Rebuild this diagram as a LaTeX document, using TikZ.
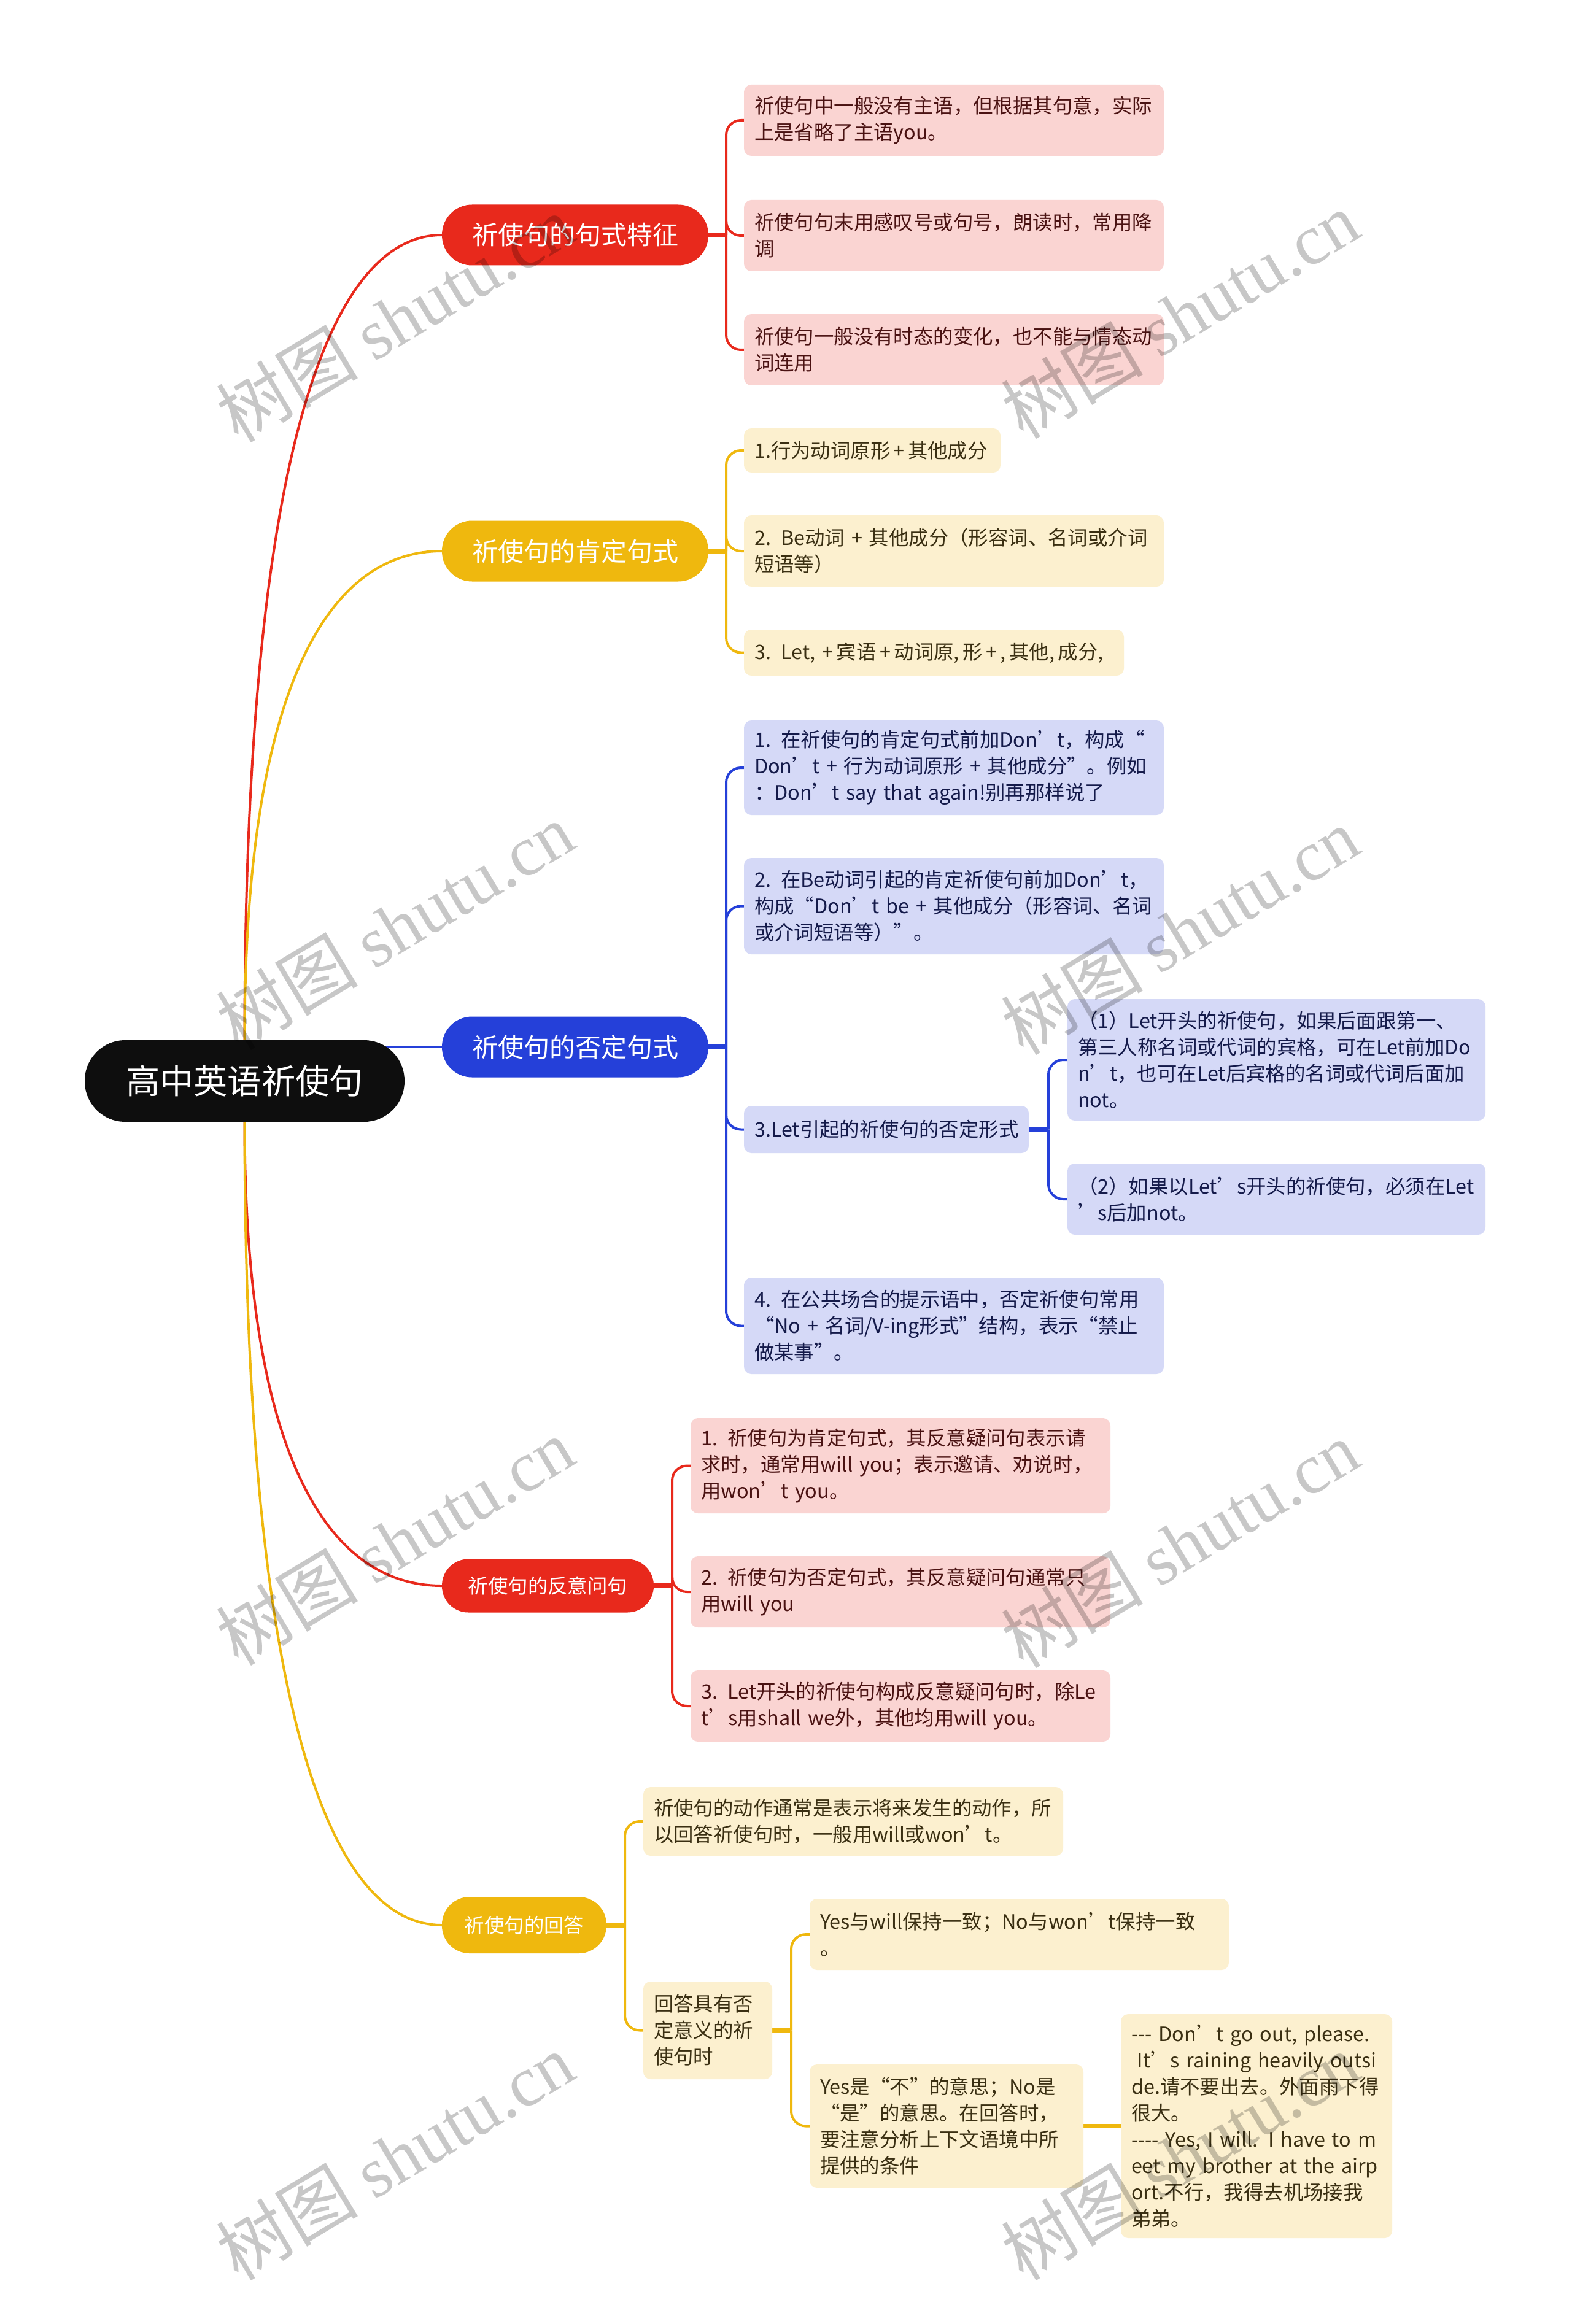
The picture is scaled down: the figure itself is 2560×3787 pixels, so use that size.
\documentclass[tikz,border=0pt]{standalone}
\usepackage{fontspec}
\setmainfont{Noto Sans CJK SC}
\newfontfamily\wmserif{Liberation Serif}
\newfontfamily\wmcjk{Noto Sans CJK SC}
\usetikzlibrary{backgrounds}
\newdimen\upx \upx=0.25pt
\definecolor{cred}{HTML}{E8291C}
\definecolor{cyel}{HTML}{EFB80E}
\definecolor{cblue}{HTML}{2540D9}
\definecolor{cblack}{HTML}{0E0E0E}
\definecolor{pinkf}{HTML}{FAD4D2}
\definecolor{pinkt}{HTML}{4A1212}
\definecolor{creamf}{HTML}{FCF0CF}
\definecolor{creamt}{HTML}{3A2F12}
\definecolor{lavf}{HTML}{D5D9F7}
\definecolor{lavt}{HTML}{141A4A}
\begin{document}
\begin{tikzpicture}[x=0.25pt,y=-0.25pt,
  every node/.style={inner sep=0pt, outer sep=0pt},
  box/.style={rounded corners=3pt, inner xsep=17\upx, inner ysep=0pt, align=left, anchor=west, font=\fontsize{8.1pt}{10.75pt}\selectfont},
  pinkbox/.style={box, fill=pinkf, text=pinkt},
  creambox/.style={box, fill=creamf, text=creamt},
  lavbox/.style={box, fill=lavf, text=lavt},
  pill/.style={text=white, align=center, font=\fontsize{10.5pt}{12pt}\selectfont},
  smallpill/.style={text=white, align=center, font=\fontsize{8.1pt}{10pt}\selectfont},
  link/.style={line width=1pt},
  stub/.style={line width=1.8pt},
  fork/.style={line width=1pt, rounded corners=6pt},
  wm/.style={rotate=31, text=black, text opacity=0.22, font=\fontsize{29pt}{30pt}\selectfont}
]
\useasboundingbox (0,0) rectangle (2560,3787);

% root
\node[fill=cblack, text=white, minimum width=521\upx, minimum height=133\upx, rounded corners=66\upx, font=\fontsize{13.8pt}{16pt}\selectfont] (root) at (398.5,1761.5) {高中英语祈使句};

% level 1
\node[pill, fill=cred, minimum width=434\upx, minimum height=99\upx, rounded corners=49\upx] (n1) at (937,383) {祈使句的句式特征};
\node[pill, fill=cyel, minimum width=434\upx, minimum height=99\upx, rounded corners=49\upx] (n2) at (937,898) {祈使句的肯定句式};
\node[pill, fill=cblue, minimum width=434\upx, minimum height=99\upx, rounded corners=49\upx] (n3) at (937,1706) {祈使句的否定句式};
\node[smallpill, fill=cred, minimum width=345\upx, minimum height=87\upx, rounded corners=43\upx] (n4) at (892.5,2584) {祈使句的反意问句};
\node[smallpill, fill=cyel, minimum width=268\upx, minimum height=92\upx, rounded corners=45\upx] (n5) at (854,3137) {祈使句的回答};

% branch 1
\node[pinkbox, text width=650\upx, minimum height=116\upx] (a1) at (1212,196) {祈使句中一般没有主语，但根据其句意，实际\\上是省略了主语you。};
\node[pinkbox, text width=650\upx, minimum height=116\upx] (a2) at (1212,384) {祈使句句末用感叹号或句号，朗读时，常用降\\调};
\node[pinkbox, text width=650\upx, minimum height=116\upx] (a3) at (1212,570) {祈使句一般没有时态的变化，也不能与情态动\\词连用};

% branch 2
\node[creambox, text width=384\upx, minimum height=72\upx] (b1) at (1212,734) {\mbox{1.行为动词原形\,+\,其他成分}};
\node[creambox, text width=650\upx, minimum height=116\upx] (b2) at (1212,898) {2. Be动词 + 其他成分（形容词、名词或介词\\短语等）};
\node[creambox, text width=585\upx, minimum height=75\upx] (b3) at (1212,1063.5) {\mbox{\spaceskip=0.17em\relax 3. Let, \ + 宾语 + 动词原, 形 + , 其他, 成分,}};

% branch 3
\node[lavbox, text width=650\upx, minimum height=154\upx] (c1) at (1212,1251) {1. 在祈使句的肯定句式前加Don’t，构成“\\Don’t + 行为动词原形 + 其他成分”。例如\\：Don’t say that again!别再那样说了};
\node[lavbox, text width=650\upx, minimum height=157\upx] (c2) at (1212,1476.5) {2. 在Be动词引起的肯定祈使句前加Don’t，\\构成“Don’t be + 其他成分（形容词、名词\\或介词短语等）”。};
\node[lavbox, text width=430\upx, minimum height=77\upx] (c3) at (1212,1840.5) {3.Let引起的祈使句的否定形式};
\node[lavbox, text width=647\upx, minimum height=198\upx] (c31) at (1739,1727) {（1）Let开头的祈使句，如果后面跟第一、\\第三人称名词或代词的宾格，可在Let前加Do\\n’t，也可在Let后宾格的名词或代词后面加\\not。};
\node[lavbox, text width=647\upx, minimum height=116\upx] (c32) at (1739,1954) {（2）如果以Let’s开头的祈使句，必须在Let\\’s后加not。};
\node[lavbox, text width=650\upx, minimum height=157\upx] (c4) at (1212,2160.5) {4. 在公共场合的提示语中，否定祈使句常用\\“No + 名词/V-ing形式”结构，表示“禁止\\做某事”。};

% branch 4
\node[pinkbox, text width=650\upx, minimum height=155\upx] (d1) at (1125,2388.5) {1. 祈使句为肯定句式，其反意疑问句表示请\\求时，通常用will you；表示邀请、劝说时，\\用won’t you。};
\node[pinkbox, text width=650\upx, minimum height=116\upx] (d2) at (1125,2594) {2. 祈使句为否定句式，其反意疑问句通常只\\用will you};
\node[pinkbox, text width=650\upx, minimum height=116\upx] (d3) at (1125,2780) {3. Let开头的祈使句构成反意疑问句时，除Le\\t’s用shall we外，其他均用will you。};

% branch 5
\node[creambox, text width=650\upx, minimum height=112\upx] (e1) at (1048,2968) {祈使句的动作通常是表示将来发生的动作，所\\以回答祈使句时，一般用will或won’t。};
\node[creambox, text width=176\upx, minimum height=159\upx] (e2) at (1048,3308.5) {回答具有否\\定意义的祈\\使句时};
\node[creambox, text width=649\upx, minimum height=116\upx] (e21) at (1319,3152) {Yes与will保持一致；No与won’t保持一致\\。};
\node[creambox, text width=412\upx, minimum height=201\upx] (e22) at (1319,3464.5) {Yes是“不”的意思；No是\\“是”的意思。在回答时，\\要注意分析上下文语境中所\\提供的条件};
\node[creambox, text width=408\upx, minimum height=365\upx] (e221) at (1826,3464.5) {-\kern0pt-\kern0pt- Don’t go out, please.\\\hspace*{0.3em}It’s raining heavily outsi\\de.请不要出去。外面雨下得\\很大。\\-\kern0pt-\kern0pt-\kern0pt- Yes, I will. I have to m\\eet my brother at the airp\\ort.不行，我得去机场接我\\弟弟。};

% connectors
\begin{scope}[on background layer]
\fill[white] (0,0) rectangle (2560,3787);
\draw[link, cred] (root.north) .. controls (398.5,777) and (527,383) .. (n1.west);
\draw[link, cyel] (root.north) .. controls (398.5,1137) and (527,898) .. (n2.west);
\draw[link, cblue] (root.center |- n3.west) -- (n3.west);
\draw[link, cred] (root.south) .. controls (398.5,2357) and (527,2584) .. (n4.west);
\draw[link, cyel] (root.south) .. controls (398.5,2744) and (527,3137) .. (n5.west);

\draw[stub, cred] (n1.east) -- ++(29,0) coordinate (t1);
\foreach \c in {a1,a2,a3} \draw[fork, cred] (t1) |- (\c.west);
\draw[stub, cyel] (n2.east) -- ++(29,0) coordinate (t2);
\foreach \c in {b1,b2,b3} \draw[fork, cyel] (t2) |- (\c.west);
\draw[stub, cblue] (n3.east) -- ++(29,0) coordinate (t3);
\foreach \c in {c1,c2,c3,c4} \draw[fork, cblue] (t3) |- (\c.west);
\draw[stub, cblue] (c3.east) -- ++(32,0) coordinate (t31);
\foreach \c in {c31,c32} \draw[fork, cblue] (t31) |- (\c.west);
\draw[stub, cred] (n4.east) -- ++(30,0) coordinate (t4);
\foreach \c in {d1,d2,d3} \draw[fork, cred] (t4) |- (\c.west);
\draw[stub, cyel] (n5.east) -- ++(30,0) coordinate (t5);
\foreach \c in {e1,e2} \draw[fork, cyel] (t5) |- (\c.west);
\draw[stub, cyel] (e2.east) -- ++(31,0) coordinate (t52);
\foreach \c in {e21,e22} \draw[fork, cyel] (t52) |- (\c.west);
\draw[stub, cyel] (e22.east) -- (e221.west);
\end{scope}

% watermarks
\node[wm] (w1) at (643,519) {{\wmcjk 树图} {\wmserif shutu.cn}};
\node[wm] (w2) at (1922,513) {{\wmcjk 树图} {\wmserif shutu.cn}};
\node[wm] (w3) at (643,1509) {{\wmcjk 树图} {\wmserif shutu.cn}};
\node[wm] (w4) at (1922,1517) {{\wmcjk 树图} {\wmserif shutu.cn}};
\node[wm] (w5) at (643,2512) {{\wmcjk 树图} {\wmserif shutu.cn}};
\node[wm] (w6) at (1922,2516) {{\wmcjk 树图} {\wmserif shutu.cn}};
\node[wm] (w7) at (643,3514) {{\wmcjk 树图} {\wmserif shutu.cn}};
\node[wm] (w8) at (1922,3514) {{\wmcjk 树图} {\wmserif shutu.cn}};
\end{tikzpicture}
\end{document}
